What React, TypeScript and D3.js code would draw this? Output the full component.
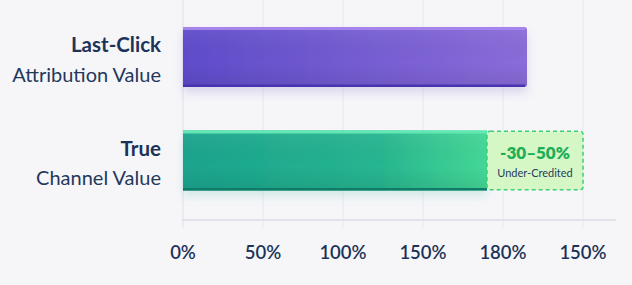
import React from "react";
import * as d3 from "d3";

const categories = ["lastClick", "true"];
const titleBold = ["Last-Click", "True"];
const titleSub = ["Attribution Value", "Channel Value"];
const values = [215, 190];
const gapUpper = [null, 250];
const gapLabel = "-30–50%";
const gapSub = "Under-Credited";
const tickValues = [0, 50, 100, 150, 200, 250];
const tickLabels = ["0%", "50%", "100%", "150%", "180%", "150%"];

const W = 632;
const H = 285;

export default function App() {
  const x = d3.scaleLinear().domain([0, 250]).range([183, 583]);
  const y = d3.scalePoint<string>().domain(categories).range([57, 160.5]);
  const bh = 60;
  const font = "Lato, 'Noto Sans', sans-serif";
  const navy = "#1c3358";

  return (
    <svg
      width={W}
      height={H}
      style={{ position: "absolute", left: 0, top: 0 }}
      fontFamily={font}
    >
      <defs>
        <linearGradient id="pg" x1="0" x2="1" y1="0" y2="0">
          <stop offset="0%" stopColor="#5f4ccb" />
          <stop offset="100%" stopColor="#8a6cd9" />
        </linearGradient>
        <linearGradient id="gg" x1="0" x2="1" y1="0" y2="0">
          <stop offset="0%" stopColor="#1aa48e" />
          <stop offset="65%" stopColor="#27b690" />
          <stop offset="100%" stopColor="#44d896" />
        </linearGradient>
        <linearGradient id="shadeV" x1="0" x2="0" y1="0" y2="1">
          <stop offset="0%" stopColor="#ffffff" stopOpacity="0.06" />
          <stop offset="60%" stopColor="#000000" stopOpacity="0" />
          <stop offset="100%" stopColor="#000000" stopOpacity="0.08" />
        </linearGradient>
        <filter id="sh" x="-10%" y="-30%" width="120%" height="180%">
          <feDropShadow dx="0" dy="6" stdDeviation="5" floodColor="#5a4ab0" floodOpacity="0.18" />
        </filter>
        <filter id="shg" x="-10%" y="-30%" width="120%" height="180%">
          <feDropShadow dx="0" dy="6" stdDeviation="5" floodColor="#1a9a80" floodOpacity="0.14" />
        </filter>
      </defs>
      <rect width={W} height={H} fill="#f6f6f9" />

      {tickValues.map((t, i) => (
        <line
          key={"g" + i}
          x1={x(t)}
          x2={x(t)}
          y1={0}
          y2={228}
          stroke={i === 0 ? "#dfdfe8" : "#e7e7ee"}
          strokeWidth={1}
        />
      ))}
      <line x1={182} x2={616} y1={220} y2={220} stroke="#dadbe5" strokeWidth={1.5} />

      {categories.map((c, i) => {
        const cy = y(c)!;
        const top = cy - bh / 2;
        const x0 = x(0);
        const x1 = x(values[i]);
        const isP = i === 0;
        const w = x1 - x0;
        const path = isP
          ? `M${x0},${top}H${x1 - 3}Q${x1},${top} ${x1},${top + 3}V${top + bh - 3}Q${x1},${top + bh} ${x1 - 3},${top + bh}H${x0}Z`
          : `M${x0},${top}H${x1}V${top + bh}H${x0}Z`;
        return (
          <g key={c}>
            <g filter={isP ? "url(#sh)" : "url(#shg)"}>
              <path d={path} fill={isP ? "url(#pg)" : "url(#gg)"} />
            </g>
            <path d={path} fill="url(#shadeV)" />
            <rect x={x0} y={top} width={w - (isP ? 2 : 0)} height={3} fill={isP ? "#a584ec" : "#62e8b2"} />
            <rect x={x0} y={top + bh - 2.5} width={w - (isP ? 2 : 0)} height={2.5} fill={isP ? "#4834b0" : "#0f7c68"} />
            {gapUpper[i] != null && (
              <g>
                <rect
                  x={x1}
                  y={top + 0.75}
                  width={x(gapUpper[i] as number) - x1}
                  height={bh - 1.5}
                  rx={3}
                  fill="#d5f7c6"
                  stroke="#3fcf78"
                  strokeWidth={1.5}
                  strokeDasharray="4 3"
                />
                <text
                  x={(x1 + x(gapUpper[i] as number)) / 2}
                  y={cy - 1.5}
                  textAnchor="middle"
                  fontSize={17}
                  fontWeight={800}
                  fill="#1eae58"
                >
                  {gapLabel}
                </text>
                <text
                  x={(x1 + x(gapUpper[i] as number)) / 2}
                  y={cy + 16}
                  textAnchor="middle"
                  fontSize={11}
                  fill="#2a3c5c"
                >
                  {gapSub}
                </text>
              </g>
            )}
            <text x={161} y={cy - 5} textAnchor="end" fontSize={20.5} fontWeight={700} fill={navy}>
              {titleBold[i]}
            </text>
            <text x={161} y={cy + 24.5} textAnchor="end" fontSize={20} fontWeight={400} fill="#24385c">
              {titleSub[i]}
            </text>
          </g>
        );
      })}

      {tickValues.map((t, i) => (
        <text
          key={"t" + i}
          x={x(t)}
          y={259}
          textAnchor="middle"
          fontSize={18.5}
          fontWeight={600}
          fill={navy}
        >
          {tickLabels[i]}
        </text>
      ))}
    </svg>
  );
}
